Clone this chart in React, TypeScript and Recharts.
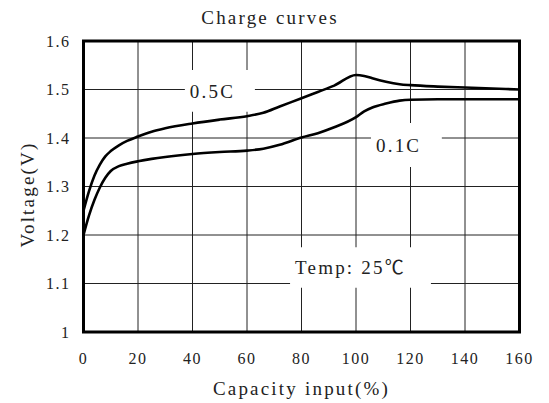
import React from 'react';
import { LineChart, Line, XAxis, YAxis, CartesianGrid, ReferenceArea, Label } from 'recharts';

// capacity input (%) sampled along the curves
const capacity = [0, 2, 4, 6, 8, 10, 13, 16, 20, 25, 30, 40, 50, 60, 66, 72, 80, 86, 92, 100, 103, 106, 111, 116, 120, 130, 140, 150, 160];
const volt05C = [1.25, 1.29, 1.322, 1.345, 1.362, 1.373, 1.385, 1.394, 1.403, 1.413, 1.42, 1.43, 1.438, 1.445, 1.452, 1.465, 1.482, 1.495, 1.508, 1.53, 1.528, 1.523, 1.516, 1.511, 1.509, 1.506, 1.504, 1.502, 1.5];
const volt01C = [1.2, 1.24, 1.272, 1.298, 1.318, 1.332, 1.342, 1.347, 1.352, 1.357, 1.361, 1.367, 1.371, 1.374, 1.378, 1.386, 1.401, 1.41, 1.422, 1.443, 1.455, 1.463, 1.471, 1.477, 1.479, 1.48, 1.48, 1.48, 1.48];

const xTicks = [0, 20, 40, 60, 80, 100, 120, 140, 160];
const yTicks = [1, 1.1, 1.2, 1.3, 1.4, 1.5, 1.6];

const data = capacity.map((c, i) => ({ c, a: volt05C[i], b: volt01C[i] }));

const font = '"Liberation Serif", "Noto Sans CJK SC", serif';
const ink = '#222';
const textStyle = { fontSize: 19, fontFamily: font, fill: ink, letterSpacing: 2.2 };
const tickStyle = { fontSize: 16, fontFamily: font, fill: ink, letterSpacing: 1.5 };

const App: React.FC = () => {
  const boxLabel = (text: string) => ({
    value: text,
    position: 'insideLeft' as const,
    offset: 5,
    style: textStyle,
  });

  return (
    <div style={{ position: 'absolute', left: 0, top: 0, width: 549, height: 403, background: '#fff' }}>
      <div style={{ position: 'absolute', left: 0, top: 7, width: 540, textAlign: 'center', fontFamily: font, fontSize: 19, letterSpacing: 2.2, lineHeight: '22px', color: ink }}>
        Charge curves
      </div>
      <LineChart width={549} height={403} data={data} margin={{ top: 41, right: 29.5, bottom: 0, left: 0 }}>
        <CartesianGrid stroke="#222" strokeWidth={1} />
        <XAxis
          dataKey="c"
          type="number"
          domain={[0, 160]}
          ticks={xTicks}
          height={71}
          axisLine={false}
          tickLine={false}
          tickSize={0}
          tickMargin={21}
          tick={tickStyle}
        >
          <Label value="Capacity input(%)" position="insideBottom" offset={8} style={textStyle} />
        </XAxis>
        <YAxis
          type="number"
          domain={[1, 1.6]}
          ticks={yTicks}
          width={83.5}
          axisLine={false}
          tickLine={false}
          tickSize={0}
          tickMargin={13}
          tick={tickStyle}
        >
          <Label
            content={(props: any) => {
              const vb = props.viewBox || { x: 0, y: 41, width: 83.5, height: 291 };
              const cx = vb.x + 27.5;
              const cy = vb.y + vb.height / 2 + 8;
              return (
                <text x={cx} y={cy} transform={`rotate(-90, ${cx}, ${cy})`} textAnchor="middle" dominantBaseline="central" style={textStyle}>
                  Voltage(V)
                </text>
              );
            }}
          />
        </YAxis>
        <ReferenceArea x1={37.2} x2={62.9} y1={1.454} y2={1.54} fill="#fff" fillOpacity={1} stroke="none" label={boxLabel('0.5C')} />
        <ReferenceArea x1={105.5} x2={131.5} y1={1.34} y2={1.431} fill="#fff" fillOpacity={1} stroke="none" label={boxLabel('0.1C')} />
        <ReferenceArea x1={75.8} x2={127.5} y1={1.091} y2={1.175} fill="#fff" fillOpacity={1} stroke="none" label={boxLabel('Temp: 25℃')} />
        <Line type="monotone" dataKey="a" stroke="#000" strokeWidth={2.6} dot={false} isAnimationActive={false} />
        <Line type="monotone" dataKey="b" stroke="#000" strokeWidth={2.6} dot={false} isAnimationActive={false} />
        <ReferenceArea x1={0} x2={160} y1={1} y2={1.6} fill="none" stroke="#000" strokeWidth={3} />
      </LineChart>
    </div>
  );
};

export default App;
